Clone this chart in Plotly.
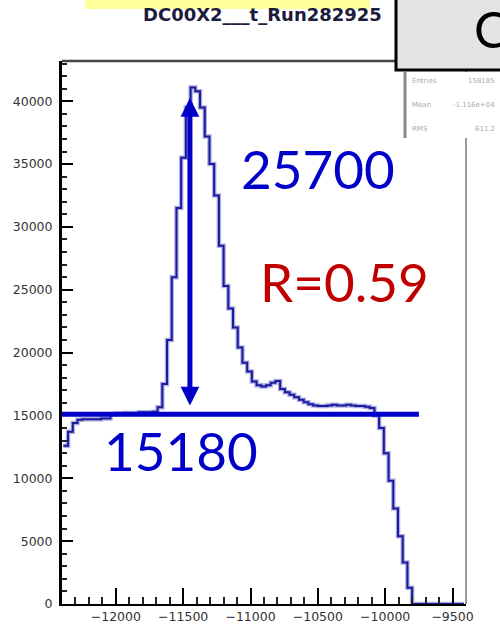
import plotly.graph_objects as go

# ---------------- data ----------------
bin_lo = -12390.0
bin_width = 35.0
counts = [
    12600, 13700, 14400, 14650, 14700, 14700, 14700, 14700, 14750, 14750,
    15100, 15150, 15150, 15200, 15200, 15200, 15250, 15250, 15250, 15300,
    15650, 17500, 21000, 26000, 31500, 35500, 39500, 41100, 40800, 39500,
    37200, 35000, 32500, 28500, 25300, 23500, 22000, 20400, 19200, 18500,
    17700, 17400, 17300, 17400, 17600, 17750, 17100, 16850, 16650, 16450,
    16250, 16050, 15900, 15800, 15750, 15750, 15800, 15850, 15800, 15800,
    15850, 15800, 15750, 15750, 15700, 15600, 15000, 14000, 12000, 9800,
    7600, 5400, 3300, 1300, 0, 0, 0, 0, 0, 0,
    0, 0, 0, 0, 0,
]
x_range = [-12400, -9400]
y_range = [0, 43200]
x_ticks = [-12000, -11500, -11000, -10500, -10000, -9500]
y_ticks = [0, 5000, 10000, 15000, 20000, 25000, 30000, 35000, 40000]

baseline_value = 15100          # horizontal line
peak_value = 40260              # arrow top
arrow_bottom = 15680
arrow_x = -11450
line_end_x = -9750

title_text = "DC00X2___t_Run282925"
stat_labels = ["Entries", "Mean", "RMS"]
stat_values = ["158185", "-1.116e+04", "611.2"]

# ---------------- build ----------------
edges = [bin_lo + i * bin_width for i in range(len(counts) + 1)]
ys = counts + [counts[-1]]

W, H = 500, 624
L, R, T, B = 62, 466, 61, 604


def px(xp):
    return (xp - L) / (R - L)


def py(yp):
    return (B - yp) / (B - T)


fig = go.Figure()
fig.add_trace(go.Scatter(x=edges, y=ys, mode="lines", line_shape="hv",
                         line=dict(color="rgba(110,110,205,0.55)", width=4.5),
                         hoverinfo="skip", showlegend=False))
fig.add_trace(go.Scatter(x=edges, y=ys, mode="lines", line_shape="hv",
                         line=dict(color="#1a1a9c", width=2),
                         showlegend=False))

tickfont = dict(family="DejaVu Sans", size=12.5, color="#333333")
fig.update_layout(
    width=W, height=H,
    margin=dict(l=L, r=W - R, t=T, b=H - B, pad=0, autoexpand=False),
    paper_bgcolor="white", plot_bgcolor="white",
    showlegend=False,
    xaxis=dict(range=x_range, tickvals=x_ticks, tickformat="d", automargin=False,
               ticks="inside", ticklen=16, tickwidth=2, tickcolor="black",
               showline=True, linecolor="black", linewidth=2,
               showgrid=False, zeroline=False, tickfont=tickfont,
               ticklabelstandoff=0,
               minor=dict(dtick=100, ticks="inside", ticklen=7, tickwidth=1.5,
                          tickcolor="#222", showgrid=False)),
    yaxis=dict(range=y_range, tickvals=y_ticks, tickformat="d", automargin=False,
               ticks="inside", ticklen=11, tickwidth=2, tickcolor="black",
               showline=True, linecolor="black", linewidth=3,
               showgrid=False, zeroline=False, tickfont=tickfont,
               ticklabelstandoff=4,
               minor=dict(dtick=1000, ticks="inside", ticklen=5, tickwidth=1.5,
                          tickcolor="#222", showgrid=False)),
)

shapes = []
# frame top / right
shapes.append(dict(type="line", xref="paper", yref="paper", x0=0, x1=1, y0=1, y1=1,
                   line=dict(color="#444", width=2.5), layer="above"))
shapes.append(dict(type="line", xref="paper", yref="paper", x0=1, x1=1, y0=0, y1=1,
                   line=dict(color="#999", width=2), layer="above"))
# horizontal baseline marker
shapes.append(dict(type="line", xref="x", yref="y", x0=x_range[0], x1=line_end_x,
                   y0=baseline_value, y1=baseline_value,
                   line=dict(color="#0000c8", width=5), layer="above"))
# yellow strip at top
shapes.append(dict(type="rect", xref="paper", yref="paper",
                   x0=px(85), x1=px(370), y0=py(9), y1=py(-2),
                   fillcolor="#ffff99", line=dict(width=0), layer="above"))
# stats box
shapes.append(dict(type="rect", xref="paper", yref="paper",
                   x0=px(403), x1=px(505), y0=py(138), y1=py(72),
                   fillcolor="white", line=dict(width=0), layer="above"))
shapes.append(dict(type="line", xref="paper", yref="paper",
                   x0=px(405), x1=px(405), y0=py(138), y1=py(72),
                   line=dict(color="#888", width=3), layer="above"))
# top-right "C" box
shapes.append(dict(type="rect", xref="paper", yref="paper",
                   x0=px(396), x1=px(510), y0=py(70), y1=py(-5),
                   fillcolor="#e4e4e4", line=dict(color="black", width=3), layer="above"))
fig.update_layout(shapes=shapes)

ann = []
# title
ann.append(dict(xref="paper", yref="paper", x=px(262), y=py(14), text=title_text,
                showarrow=False, xanchor="center", yanchor="middle",
                font=dict(family="DejaVu Sans", size=18, color="#1c1c3c", weight="bold")))
# "C" (partly clipped by the page edge, as in the source slide)
ann.append(dict(xref="paper", yref="paper", x=px(472), y=py(29), text="C",
                showarrow=False, xanchor="left", yanchor="middle",
                font=dict(family="Lato", size=50, color="black")))
# stats
for i, (lab, val) in enumerate(zip(stat_labels, stat_values)):
    yy = py(81 + i * 24)
    ann.append(dict(xref="paper", yref="paper", x=px(410), y=yy, text=lab,
                    showarrow=False, xanchor="left", yanchor="middle",
                    font=dict(family="DejaVu Sans", size=7, color="#aaaaaa")))
    ann.append(dict(xref="paper", yref="paper", x=px(497), y=yy, text=val,
                    showarrow=False, xanchor="right", yanchor="middle",
                    font=dict(family="DejaVu Sans", size=7, color="#aaaaaa")))

# big texts
big = [("25700", 318, 168, "#0000c8"), ("R=0.59", 344, 281, "#c00000"),
       ("15180", 181, 450, "#0000c8")]
for txt, cx, cy, col in big:
    ann.append(dict(xref="paper", yref="paper", x=px(cx), y=py(cy), text=txt,
                    showarrow=False, xanchor="center", yanchor="middle",
                    font=dict(family="Lato", size=53, color=col)))

# double-headed arrow
ann.append(dict(x=arrow_x, y=peak_value, ax=arrow_x, ay=arrow_bottom,
                xref="x", yref="y", axref="x", ayref="y", text="",
                showarrow=True, arrowhead=2, startarrowhead=2, arrowside="end+start",
                arrowwidth=5, arrowsize=0.75, startarrowsize=0.75,
                arrowcolor="#0000c8", standoff=0, startstandoff=0))
fig.update_layout(annotations=ann)

fig.write_html("out.html")
